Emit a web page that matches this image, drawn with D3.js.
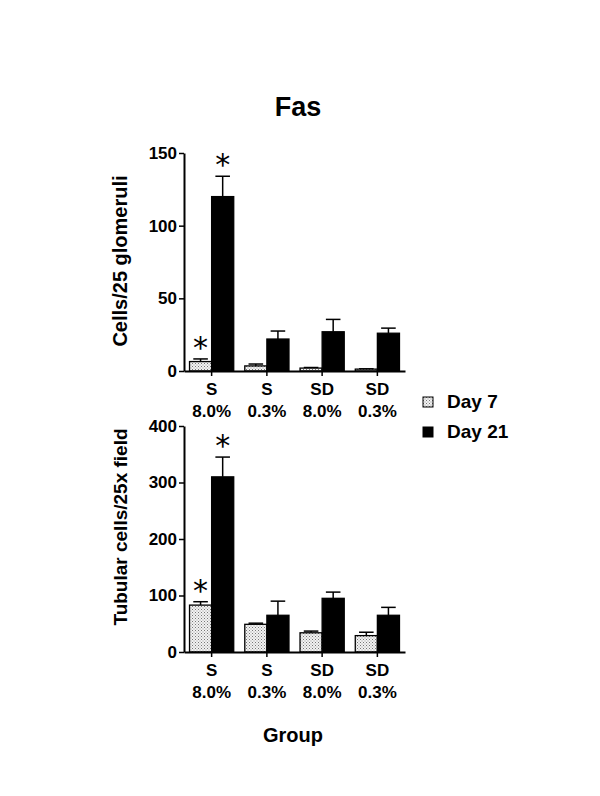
<!DOCTYPE html>
<html>
<head>
<meta charset="utf-8">
<script src="https://cdn.jsdelivr.net/npm/d3@7"></script>
<style>
  body { margin: 0; background: #fff; }
  svg text { font-family: "Liberation Sans", Arial, Helvetica, sans-serif; font-weight: bold; fill: #000; }
</style>
</head>
<body>
<svg id="chart" width="600" height="796"></svg>
<script>
const groups = ["S|8.0%", "S|0.3%", "SD|8.0%", "SD|0.3%"];
const seriesNames = ["Day 7", "Day 21"];

// top panel: Cells/25 glomeruli
const glomMean = [[6.5, 120], [3.5, 22], [2, 27], [1.3, 26]];
const glomErr  = [[8.3, 134], [4.8, 27.5], [2.4, 35.5], [1.5, 29.5]];
const glomTicks = [0, 50, 100, 150];

// bottom panel: Tubular cells/25x field
const tubMean = [[83, 310], [49, 65], [34, 95], [29, 65]];
const tubErr  = [[89, 345], [51, 90], [37, 106], [35, 79]];
const tubTicks = [0, 100, 200, 300, 400];

// significance marks [group, series]
const glomStars = [[0, 0], [0, 1]];
const tubStars = [[0, 0], [0, 1]];

const svg = d3.select('#chart');

// Stipple pattern for Day 7
const defs = svg.append('defs');
const pat = defs.append('pattern')
    .attr('id', 'dots')
    .attr('width', 3).attr('height', 3)
    .attr('patternUnits', 'userSpaceOnUse');
pat.append('rect').attr('width', 3).attr('height', 3).attr('fill', '#f2f2f2');
pat.append('rect').attr('x', 0).attr('y', 0).attr('width', 1).attr('height', 1).attr('fill', '#777');
pat.append('rect').attr('x', 1.5).attr('y', 1.5).attr('width', 1).attr('height', 1).attr('fill', '#999');

const fills = ['url(#dots)', '#000'];

// Title
svg.append('text')
    .attr('x', 298).attr('y', 116)
    .attr('text-anchor', 'middle')
    .style('font-size', '27px')
    .text('Fas');

function drawPanel(opts) {
    const { left, right, top, bottom, max, ticks, mean, err, stars, label, labelY, labelSize } = opts;

    const x0 = d3.scaleBand().domain(groups).range([left, right]).paddingInner(0.2).paddingOuter(0.1);
    const x1 = d3.scaleBand().domain([0, 1]).range([0, x0.bandwidth()]);
    const y = d3.scaleLinear().domain([0, max]).range([bottom, top]);

    const g = svg.append('g');

    // bars
    groups.forEach((grp, i) => {
        [0, 1].forEach(s => {
            const bx = x0(grp) + x1(s);
            const bw = x1.bandwidth();
            // error bar (upper only)
            const cx = bx + bw / 2;
            g.append('line')
                .attr('x1', cx).attr('x2', cx)
                .attr('y1', y(mean[i][s])).attr('y2', y(err[i][s]))
                .attr('stroke', '#000').attr('stroke-width', 1.5);
            g.append('line')
                .attr('x1', cx - bw * 0.33).attr('x2', cx + bw * 0.33)
                .attr('y1', y(err[i][s])).attr('y2', y(err[i][s]))
                .attr('stroke', '#000').attr('stroke-width', 1.5);
            g.append('rect')
                .attr('x', bx).attr('y', y(mean[i][s]))
                .attr('width', bw).attr('height', y(0) - y(mean[i][s]))
                .attr('fill', fills[s])
                .attr('stroke', '#000').attr('stroke-width', 1.3);
        });
    });

    // asterisks
    stars.forEach(([i, s]) => {
        const cx = x0(groups[i]) + x1(s) + x1.bandwidth() / 2;
        g.append('text')
            .attr('x', cx).attr('y', y(err[i][s]) - 1)
            .attr('text-anchor', 'middle')
            .style('font-family', '"DejaVu Sans", sans-serif')
            .style('font-size', '30px').style('font-weight', 'normal')
            .text('*');
    });

    // y axis
    const yAxis = d3.axisLeft(y).tickValues(ticks).tickSize(5).tickSizeOuter(0);
    const ya = g.append('g')
        .attr('transform', `translate(${left},0)`)
        .call(yAxis);
    ya.select('.domain').attr('stroke-width', 2);
    ya.selectAll('.tick line').attr('stroke-width', 1.5);
    ya.selectAll('text').style('font-size', '17px').attr('x', -7);

    // x axis
    const xAxis = d3.axisBottom(x0).tickSize(5).tickSizeOuter(0).tickFormat('');
    const xa = g.append('g')
        .attr('transform', `translate(0,${bottom})`)
        .call(xAxis);
    xa.select('.domain').attr('stroke-width', 2);
    xa.selectAll('.tick line').attr('stroke-width', 1.5);
    xa.selectAll('.tick').each(function(d) {
        const parts = d.split('|');
        const t = d3.select(this).append('text')
            .attr('text-anchor', 'middle')
            .style('font-size', '17px');
        t.append('tspan').attr('x', 0).attr('y', 24).text(parts[0]);
        t.append('tspan').attr('x', 0).attr('y', 46).text(parts[1]);
    });

    // y label
    svg.append('text')
        .attr('transform', `translate(127,${labelY}) rotate(-90)`)
        .attr('text-anchor', 'middle')
        .style('font-size', labelSize)
        .text(label);
}

drawPanel({
    left: 184, right: 405, top: 153, bottom: 371, max: 150,
    ticks: glomTicks, mean: glomMean, err: glomErr, stars: glomStars,
    label: 'Cells/25 glomeruli', labelY: 261, labelSize: '20px'
});

drawPanel({
    left: 184, right: 405, top: 426, bottom: 652, max: 400,
    ticks: tubTicks, mean: tubMean, err: tubErr, stars: tubStars,
    label: 'Tubular cells/25x field', labelY: 527, labelSize: '19px'
});

// Legend
const legend = svg.append('g').attr('transform', 'translate(423,397)');
seriesNames.forEach((name, i) => {
    legend.append('rect')
        .attr('x', 0).attr('y', i * 30)
        .attr('width', 10).attr('height', 10)
        .attr('fill', fills[i])
        .attr('stroke', '#000').attr('stroke-width', 1);
    legend.append('text')
        .attr('x', 24).attr('y', i * 30 + 11)
        .style('font-size', '19px')
        .text(name);
});

// X label
svg.append('text')
    .attr('x', 293).attr('y', 742)
    .attr('text-anchor', 'middle')
    .style('font-size', '20px')
    .text('Group');
</script>
</body>
</html>
